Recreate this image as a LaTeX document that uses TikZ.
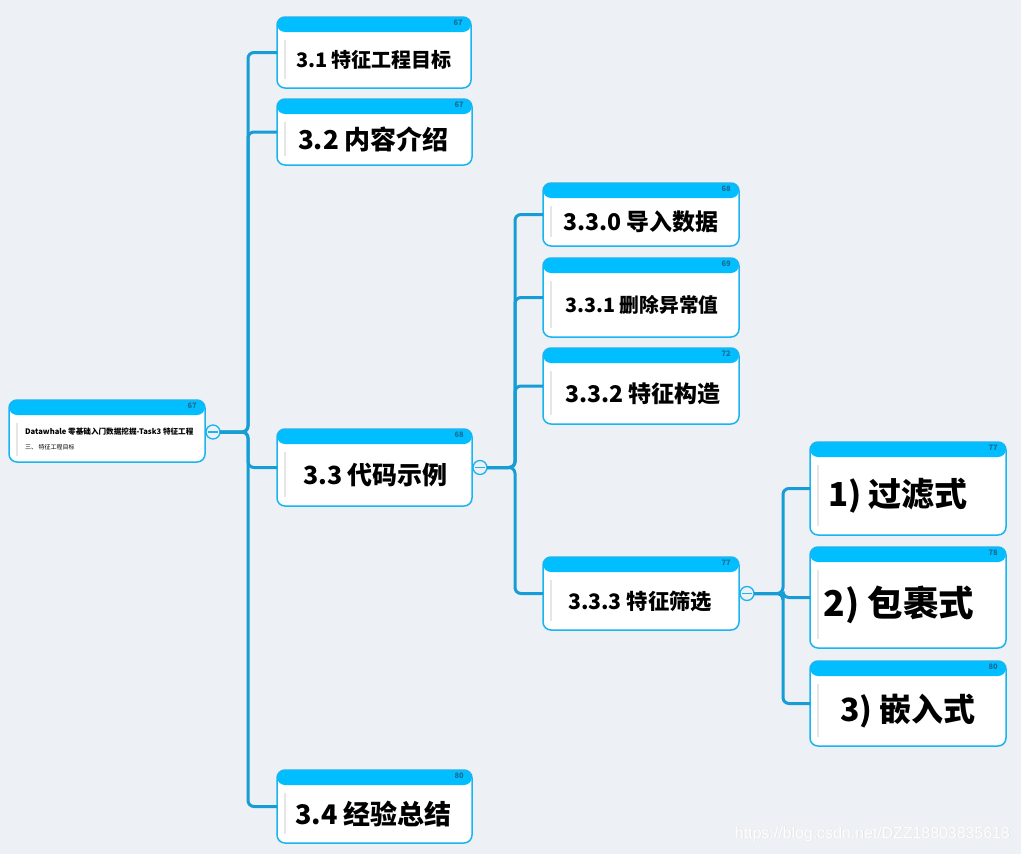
\documentclass[tikz,border=0pt]{standalone}
\usepackage{fontspec}
\setmainfont{Noto Sans CJK SC}
\newfontfamily\wmfont{Liberation Sans}
\definecolor{bgc}{HTML}{EDF0F5}
\definecolor{hdr}{HTML}{00BEFF}
\definecolor{cardborder}{HTML}{1AB4F0}
\definecolor{connc}{HTML}{179DD6}
\definecolor{numc}{HTML}{1A6A92}
\definecolor{barc}{HTML}{E4E6EA}
\tikzset{
  cardbox/.style={rectangle, draw=cardborder, line width=1.5pt, fill=white, rounded corners=8pt,
    inner sep=0pt, outer sep=0pt,
    path picture={\fill[hdr] (path picture bounding box.north west) rectangle ([yshift=-15pt]path picture bounding box.north east);}},
  numtext/.style={font=\bfseries\fontsize{7.5}{7.5}\selectfont, text=numc, inner sep=0pt},
  barline/.style={draw=barc, line width=1.6pt},
  conn/.style={draw=connc, line width=3pt, rounded corners=6pt},
  collapse/.style={circle, draw=cardborder, line width=1.3pt, fill=bgc, minimum size=14pt, inner sep=0pt, outer sep=0pt},
  minusline/.style={draw=cardborder, line width=1.3pt},
  bodytext/.style={font=\bfseries\fontsize{#1}{#1}\selectfont, text=black, inner sep=0pt}
}
\newcommand\mmcard[9]{%
  \node[cardbox, minimum width={#4pt-#2pt}, minimum height={#5pt-#3pt}] (#1) at ({(#2+#4)/2},{(#3+#5)/2}) {};
  \node[numtext, anchor=north east] (#1-n) at ([xshift=-8pt,yshift=-3pt]#1.north east) {#6};
  \draw[barline] ([xshift=8pt,yshift=-23pt]#1.north west) -- ([xshift=8pt,yshift=9pt]#1.south west);
  \node[bodytext=#7] (#1-t) at ({(#2+#4)/2+#9},{(#3+15+#5)/2}) {#8};
}
\begin{document}
\begin{tikzpicture}[x=1pt,y=-1pt]
\fill[bgc] (0,0) rectangle (1021,854);
\useasboundingbox (0,0) rectangle (1021,854);

% root card
\node[cardbox, minimum width=196pt, minimum height=62pt] (root) at (107,431) {};
\node[numtext, anchor=north east] (root-n) at ([xshift=-8pt,yshift=-3pt]root.north east) {67};
\draw[barline] ([xshift=8pt,yshift=-23pt]root.north west) -- ([xshift=8pt,yshift=6pt]root.south west);
\node[anchor=west, font=\bfseries\fontsize{7.6}{7.6}\selectfont, inner sep=0pt] (root-t1) at (25,432) {Datawhale 零基础入门数据挖掘-Task3 特征工程};
\node[anchor=west, font=\fontsize{6}{6}\selectfont, inner sep=0pt] (root-t2) at (25,447.5) {三、 特征工程目标};

% level 1
\mmcard{n31}{277}{17}{471}{88}{67}{20}{3.1 特征工程目标}{0}
\mmcard{n32}{277}{99}{472}{165}{67}{26}{3.2 内容介绍}{-1}
\mmcard{n33}{277}{429}{472}{506}{68}{25}{3.3 代码示例}{1}
\mmcard{n34}{277}{770}{472}{843}{80}{27}{3.4 经验总结}{-1}

% level 2
\mmcard{n330}{543}{183}{739}{246}{68}{23}{3.3.0 导入数据}{0}
\mmcard{n331}{543}{258}{739}{337}{69}{19.7}{3.3.1 删除异常值}{1}
\mmcard{n332}{543}{348}{739}{424}{72}{23}{3.3.2 特征构造}{2}
\mmcard{n333}{543}{557}{739}{630}{77}{21.3}{3.3.3 特征筛选}{-1}

% level 3
\mmcard{f1}{810}{442}{1006}{535}{77}{33}{1) 过滤式}{-10}
\mmcard{f2}{810}{547}{1006}{648}{78}{35.5}{2) 包裹式}{-9}
\mmcard{f3}{810}{661}{1006}{746}{80}{32}{3) 嵌入式}{0}

% junction points
\coordinate (j1) at (248,432);
\coordinate (j2) at (515,467.5);
\coordinate (j3) at (783,593.5);

% collapse buttons
\node[collapse] (c0) at (213,432) {};
\node[collapse] (c1) at (480,467.5) {};
\node[collapse] (c2) at (747,593.5) {};

% connectors
\foreach \t in {n31,n32,n33,n34} {\draw[conn] (c0.east) -- (j1) |- (\t.west);}
\foreach \t in {n330,n331,n332,n333} {\draw[conn] (c1.east) -- (j2) |- (\t.west);}
\foreach \t in {f1,f2,f3} {\draw[conn] (c2.east) -- (j3) |- (\t.west);}

% minus signs in buttons
\foreach \c in {c0,c1,c2} {\draw[minusline] ([xshift=-5pt]\c.center) -- ([xshift=5pt]\c.center);}

% watermark
\node[anchor=west, font=\wmfont\fontsize{15.9}{15.9}\selectfont, text=black!12, inner sep=0pt] (wm-s) at (735.6,834.6) {https://blog.csdn.net/DZZ18803835618};
\node[anchor=west, font=\wmfont\fontsize{15.9}{15.9}\selectfont, text=white, inner sep=0pt] (wm) at (735,834) {https://blog.csdn.net/DZZ18803835618};
\end{tikzpicture}
\end{document}
